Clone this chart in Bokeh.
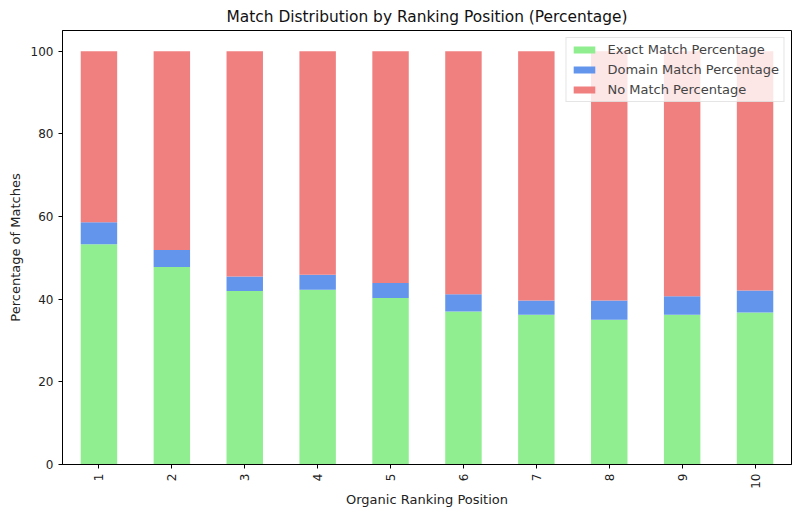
from bokeh.plotting import figure
from bokeh.models import FactorRange, Range1d, FixedTicker, Legend
from bokeh.embed import file_html
from bokeh.resources import INLINE
from math import pi

positions = ["1", "2", "3", "4", "5", "6", "7", "8", "9", "10"]
exact_pct = [53.3, 47.8, 42.0, 42.3, 40.3, 37.0, 36.2, 35.0, 36.2, 36.8]
domain_pct = [5.3, 4.1, 3.5, 3.6, 3.6, 4.2, 3.5, 4.7, 4.5, 5.3]
no_match_pct = [round(100 - e - d, 1) for e, d in zip(exact_pct, domain_pct)]
series = ["Exact Match Percentage", "Domain Match Percentage", "No Match Percentage"]
colors = ["#90EE90", "#6495ED", "#F08080"]
y_ticks = [0, 20, 40, 60, 80, 100]

data = {"pos": positions, "exact": exact_pct, "domain": domain_pct, "nomatch": no_match_pct}

FONT = "DejaVu Sans"

p = figure(width=800, height=518, x_range=FactorRange(*positions), y_range=Range1d(0, 105),
           output_backend="svg", toolbar_location=None,
           title="Match Distribution by Ranking Position (Percentage)")
p.min_border_left = 62
p.min_border_right = 9
p.min_border_top = 30
p.min_border_bottom = 54

renderers = p.vbar_stack(["exact", "domain", "nomatch"], x="pos", width=0.5, color=colors,
                         line_color=None, source=data)

legend = Legend(items=[(s, [r]) for s, r in zip(series, renderers)], location="top_right")
legend.label_text_font = FONT
legend.label_text_font_size = "13px"
legend.label_height = 14
legend.glyph_height = 9
legend.glyph_width = 27
legend.spacing = 5
legend.padding = 4
legend.margin = 7
legend.label_standoff = 10
legend.border_line_color = "#cccccc"
legend.background_fill_alpha = 0.8
p.add_layout(legend)

p.title.align = "center"
p.title.text_font = FONT
p.title.text_font_size = "15.4px"
p.title.text_font_style = "normal"
p.title.text_color = "#111111"

p.xgrid.visible = False
p.ygrid.visible = False
p.outline_line_color = "black"
p.outline_line_width = 1

p.yaxis.ticker = FixedTicker(ticks=y_ticks)
p.yaxis.axis_label = "Percentage of Matches"
p.xaxis.axis_label = "Organic Ranking Position"
p.xaxis.major_label_orientation = pi / 2
for ax in (p.xaxis, p.yaxis):
    ax.axis_label_text_font = FONT
    ax.axis_label_text_font_size = "13px"
    ax.axis_label_text_font_style = "normal"
    ax.axis_label_text_color = "#222222"
    ax.major_label_text_font = FONT
    ax.major_label_text_font_size = "12px"
    ax.major_label_text_color = "#222222"
    ax.major_tick_in = 0
    ax.major_tick_out = 4
    ax.minor_tick_out = 0
    ax.minor_tick_in = 0
    ax.axis_line_color = "black"
p.xaxis.axis_label_standoff = 0

open("out.html", "w").write(file_html(p, INLINE))
